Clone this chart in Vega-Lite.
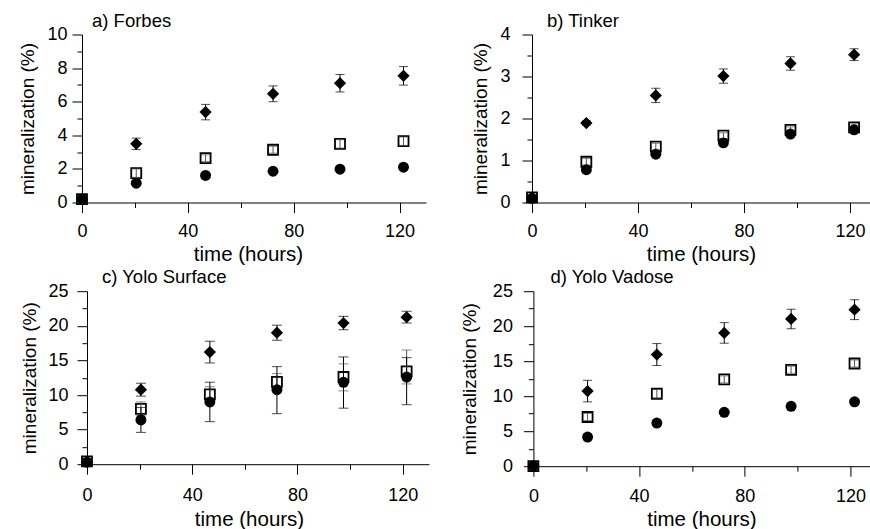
{
  "$schema": "https://vega.github.io/schema/vega-lite/v6.json",
  "padding": {"left": 18, "top": 11.5, "right": 0, "bottom": 0},
  "spacing": 2.7,
  "config": {
    "view": {"stroke": null},
    "font": "Liberation Sans",
    "axis": {"grid": false, "domainColor": "#000", "tickColor": "#000", "labelColor": "#000", "titleColor": "#000", "labelFontSize": 18, "titleFontSize": 20, "titleFontWeight": "normal", "labelOverlap": false, "labelFlush": false, "labelBound": false, "tickCount": 40, "format": "~g"},
    "axisY": {"titleFontSize": 19},
    "axisX": {"titleFontSize": 20.5},
    "title": {"fontSize": 18.5, "fontWeight": "normal", "color": "#000", "anchor": "start", "frame": "group", "baseline": "alphabetic", "offset": -4.5}
  },
  "datasets": {
    "pts": [
      {"p": "a", "s": "square", "t": 0, "y": 0.2},
      {"p": "a", "s": "circle", "t": 0, "y": 0.2},
      {"p": "a", "s": "diamond", "t": 0, "y": 0.2},
      {"p": "a", "s": "diamond", "t": 20.5, "y": 3.49, "lo": 3.15, "hi": 3.83},
      {"p": "a", "s": "diamond", "t": 46.7, "y": 5.38, "lo": 4.92, "hi": 5.84},
      {"p": "a", "s": "diamond", "t": 72.2, "y": 6.47, "lo": 6.0, "hi": 6.94},
      {"p": "a", "s": "diamond", "t": 97.5, "y": 7.1, "lo": 6.58, "hi": 7.62},
      {"p": "a", "s": "diamond", "t": 121.5, "y": 7.54, "lo": 6.99, "hi": 8.09},
      {"p": "a", "s": "square", "t": 20.5, "y": 1.75, "lo": 1.5, "hi": 2.0},
      {"p": "a", "s": "square", "t": 46.7, "y": 2.64, "lo": 2.44, "hi": 2.84},
      {"p": "a", "s": "square", "t": 72.2, "y": 3.14, "lo": 2.94, "hi": 3.34},
      {"p": "a", "s": "square", "t": 97.5, "y": 3.49, "lo": 3.24, "hi": 3.74},
      {"p": "a", "s": "square", "t": 121.5, "y": 3.65, "lo": 3.4, "hi": 3.9},
      {"p": "a", "s": "circle", "t": 20.5, "y": 1.15},
      {"p": "a", "s": "circle", "t": 46.7, "y": 1.61},
      {"p": "a", "s": "circle", "t": 72.2, "y": 1.86},
      {"p": "a", "s": "circle", "t": 97.5, "y": 1.98},
      {"p": "a", "s": "circle", "t": 121.5, "y": 2.1},

      {"p": "b", "s": "square", "t": 0, "y": 0.12},
      {"p": "b", "s": "circle", "t": 0, "y": 0.1},
      {"p": "b", "s": "diamond", "t": 0, "y": 0.1},
      {"p": "b", "s": "diamond", "t": 20.5, "y": 1.89, "lo": 1.84, "hi": 1.94},
      {"p": "b", "s": "diamond", "t": 46.7, "y": 2.55, "lo": 2.38, "hi": 2.72},
      {"p": "b", "s": "diamond", "t": 72.2, "y": 3.01, "lo": 2.84, "hi": 3.18},
      {"p": "b", "s": "diamond", "t": 97.5, "y": 3.31, "lo": 3.15, "hi": 3.47},
      {"p": "b", "s": "diamond", "t": 121.5, "y": 3.52, "lo": 3.38, "hi": 3.66},
      {"p": "b", "s": "square", "t": 20.5, "y": 0.97, "lo": 0.89, "hi": 1.05},
      {"p": "b", "s": "square", "t": 46.7, "y": 1.33, "lo": 1.25, "hi": 1.41},
      {"p": "b", "s": "square", "t": 72.2, "y": 1.59, "lo": 1.52, "hi": 1.66},
      {"p": "b", "s": "square", "t": 97.5, "y": 1.73, "lo": 1.66, "hi": 1.8},
      {"p": "b", "s": "square", "t": 121.5, "y": 1.79, "lo": 1.71, "hi": 1.87},
      {"p": "b", "s": "circle", "t": 20.5, "y": 0.78},
      {"p": "b", "s": "circle", "t": 46.7, "y": 1.15},
      {"p": "b", "s": "circle", "t": 72.2, "y": 1.42},
      {"p": "b", "s": "circle", "t": 97.5, "y": 1.63},
      {"p": "b", "s": "circle", "t": 121.5, "y": 1.73},

      {"p": "c", "s": "square", "t": 0, "y": 0.4},
      {"p": "c", "s": "circle", "t": 0, "y": 0.3},
      {"p": "c", "s": "diamond", "t": 0, "y": 0.3},
      {"p": "c", "s": "diamond", "t": 20.5, "y": 10.77, "lo": 9.84, "hi": 11.7},
      {"p": "c", "s": "diamond", "t": 46.7, "y": 16.2, "lo": 14.63, "hi": 17.77},
      {"p": "c", "s": "diamond", "t": 72.2, "y": 19.0, "lo": 17.91, "hi": 20.09},
      {"p": "c", "s": "diamond", "t": 97.5, "y": 20.4, "lo": 19.43, "hi": 21.37},
      {"p": "c", "s": "diamond", "t": 121.5, "y": 21.25, "lo": 20.4, "hi": 22.1},
      {"p": "c", "s": "square", "t": 20.5, "y": 8.0, "lo": 7.0, "hi": 9.0},
      {"p": "c", "s": "square", "t": 46.7, "y": 10.1, "lo": 8.9, "hi": 11.2},
      {"p": "c", "s": "square", "t": 72.2, "y": 11.9, "lo": 10.6, "hi": 13.1},
      {"p": "c", "s": "square", "t": 97.5, "y": 12.6, "lo": 10.6, "hi": 14.5},
      {"p": "c", "s": "square", "t": 121.5, "y": 13.4, "lo": 11.6, "hi": 16.5},
      {"p": "c", "s": "circle", "t": 20.5, "y": 6.4, "lo": 4.6, "hi": 8.2},
      {"p": "c", "s": "circle", "t": 46.7, "y": 9.0, "lo": 6.15, "hi": 11.85},
      {"p": "c", "s": "circle", "t": 72.2, "y": 10.77, "lo": 7.3, "hi": 14.1},
      {"p": "c", "s": "circle", "t": 97.5, "y": 11.83, "lo": 8.1, "hi": 15.5},
      {"p": "c", "s": "circle", "t": 121.5, "y": 12.6, "lo": 8.6, "hi": 15.4},

      {"p": "d", "s": "square", "t": 0, "y": 0},
      {"p": "d", "s": "circle", "t": 0, "y": 0},
      {"p": "d", "s": "diamond", "t": 0, "y": 0},
      {"p": "d", "s": "diamond", "t": 20.5, "y": 10.73, "lo": 9.19, "hi": 12.27},
      {"p": "d", "s": "diamond", "t": 46.7, "y": 15.95, "lo": 14.38, "hi": 17.52},
      {"p": "d", "s": "diamond", "t": 72.2, "y": 19.04, "lo": 17.57, "hi": 20.51},
      {"p": "d", "s": "diamond", "t": 97.5, "y": 21.03, "lo": 19.63, "hi": 22.43},
      {"p": "d", "s": "diamond", "t": 121.5, "y": 22.36, "lo": 20.94, "hi": 23.78},
      {"p": "d", "s": "square", "t": 20.5, "y": 7.03, "lo": 6.53, "hi": 7.53},
      {"p": "d", "s": "square", "t": 46.7, "y": 10.35, "lo": 9.75, "hi": 10.95},
      {"p": "d", "s": "square", "t": 72.2, "y": 12.4, "lo": 11.9, "hi": 12.9},
      {"p": "d", "s": "square", "t": 97.5, "y": 13.77, "lo": 13.27, "hi": 14.27},
      {"p": "d", "s": "square", "t": 121.5, "y": 14.67, "lo": 14.17, "hi": 15.17},
      {"p": "d", "s": "circle", "t": 20.5, "y": 4.17},
      {"p": "d", "s": "circle", "t": 46.7, "y": 6.17},
      {"p": "d", "s": "circle", "t": 72.2, "y": 7.7},
      {"p": "d", "s": "circle", "t": 97.5, "y": 8.55},
      {"p": "d", "s": "circle", "t": 121.5, "y": 9.2}
    ]
  },
  "vconcat": [
    {
      "spacing": 45,
      "hconcat": [
        {
          "width": 344, "height": 168,
          "title": {"text": "a) Forbes", "dx": 10},
          "data": {"name": "pts"},
          "transform": [{"filter": "datum.p === 'a'"}],
          "encoding": {
            "x": {"field": "t", "type": "quantitative", "scale": {"domain": [0, 130], "nice": false, "zero": false},
              "axis": {"title": "time (hours)", "titleX": 166, "values": [0, 20, 40, 60, 80, 100, 120], "tickCount": 40, "format": "~g", "labelExpr": "datum.value % 40 === 0 ? datum.label : ''", "tickSize": {"condition": {"test": "datum.value % 40 === 0", "value": 10}, "value": 5}, "labelPadding": 10, "titlePadding": 4, "labelOverlap": false}}
          },
          "layer": [
            {"transform": [{"filter": "datum.s === 'square'"}], "mark": {"type": "point", "shape": "square", "filled": true, "fill": "#fff", "stroke": "#000", "strokeWidth": 1.8, "size": 100, "opacity": 1, "clip": false},
              "encoding": {"y": {"field": "y", "type": "quantitative", "scale": {"domain": [0, 10], "nice": false},
                "axis": {"title": "mineralization (%)", "values": [0,1,2,3,4,5,6,7,8,9,10], "tickCount": 40, "format": "~g", "labelExpr": "datum.value % 2 === 0 ? datum.label : ''", "tickSize": {"condition": {"test": "datum.value % 2 === 0", "value": 10}, "value": 5}, "labelPadding": 5, "titlePadding": 9, "labelOverlap": false}}}},
            {"transform": [{"filter": "isValid(datum.lo)"}], "mark": {"type": "rule", "strokeWidth": 1, "clip": false},
              "encoding": {"y": {"field": "lo", "type": "quantitative"}, "y2": {"field": "hi"}, "color": {"field": "s", "type": "nominal", "scale": {"domain": ["square", "circle", "diamond"], "range": ["#555", "#000", "#000"]}, "legend": null}}},
            {"transform": [{"filter": "isValid(datum.lo)"}], "mark": {"type": "tick", "orient": "horizontal", "thickness": 1, "size": 9, "clip": false},
              "encoding": {"y": {"field": "lo", "type": "quantitative"}, "color": {"field": "s", "type": "nominal", "legend": null}}},
            {"transform": [{"filter": "isValid(datum.lo)"}], "mark": {"type": "tick", "orient": "horizontal", "thickness": 1, "size": 9, "clip": false},
              "encoding": {"y": {"field": "hi", "type": "quantitative"}, "color": {"field": "s", "type": "nominal", "legend": null}}},
            {"transform": [{"filter": "datum.s === 'circle'"}], "mark": {"type": "point", "shape": "circle", "filled": true, "opacity": 1, "color": "#000", "size": 120, "clip": false},
              "encoding": {"y": {"field": "y", "type": "quantitative"}}},
            {"transform": [{"filter": "datum.s === 'diamond'"}], "mark": {"type": "point", "shape": "diamond", "filled": true, "opacity": 1, "color": "#000", "size": 150, "clip": false},
              "encoding": {"y": {"field": "y", "type": "quantitative"}}}
          ]
        },
        {
          "width": 338, "height": 168,
          "title": {"text": "b) Tinker", "dx": 15},
          "data": {"name": "pts"},
          "transform": [{"filter": "datum.p === 'b'"}],
          "encoding": {
            "x": {"field": "t", "type": "quantitative", "scale": {"domain": [0, 127.5], "nice": false, "zero": false},
              "axis": {"title": "time (hours)", "titleX": 169, "values": [0, 20, 40, 60, 80, 100, 120], "tickCount": 40, "format": "~g", "labelExpr": "datum.value % 40 === 0 ? datum.label : ''", "tickSize": {"condition": {"test": "datum.value % 40 === 0", "value": 10}, "value": 5}, "labelPadding": 10, "titlePadding": 4, "labelOverlap": false}}
          },
          "layer": [
            {"transform": [{"filter": "datum.s === 'square'"}], "mark": {"type": "point", "shape": "square", "filled": true, "fill": "#fff", "stroke": "#000", "strokeWidth": 1.8, "size": 100, "opacity": 1, "clip": false},
              "encoding": {"y": {"field": "y", "type": "quantitative", "scale": {"domain": [0, 4], "nice": false},
                "axis": {"title": "mineralization (%)", "values": [0,0.5,1,1.5,2,2.5,3,3.5,4], "tickCount": 40, "format": "~g", "labelExpr": "datum.value % 1 === 0 ? datum.label : ''", "tickSize": {"condition": {"test": "datum.value % 1 === 0", "value": 10}, "value": 5}, "labelPadding": 12, "titlePadding": 9, "labelOverlap": false}}}},
            {"transform": [{"filter": "isValid(datum.lo)"}], "mark": {"type": "rule", "strokeWidth": 1, "clip": false},
              "encoding": {"y": {"field": "lo", "type": "quantitative"}, "y2": {"field": "hi"}, "color": {"field": "s", "type": "nominal", "scale": {"domain": ["square", "circle", "diamond"], "range": ["#555", "#000", "#000"]}, "legend": null}}},
            {"transform": [{"filter": "isValid(datum.lo)"}], "mark": {"type": "tick", "orient": "horizontal", "thickness": 1, "size": 9, "clip": false},
              "encoding": {"y": {"field": "lo", "type": "quantitative"}, "color": {"field": "s", "type": "nominal", "legend": null}}},
            {"transform": [{"filter": "isValid(datum.lo)"}], "mark": {"type": "tick", "orient": "horizontal", "thickness": 1, "size": 9, "clip": false},
              "encoding": {"y": {"field": "hi", "type": "quantitative"}, "color": {"field": "s", "type": "nominal", "legend": null}}},
            {"transform": [{"filter": "datum.s === 'circle'"}], "mark": {"type": "point", "shape": "circle", "filled": true, "opacity": 1, "color": "#000", "size": 120, "clip": false},
              "encoding": {"y": {"field": "y", "type": "quantitative"}}},
            {"transform": [{"filter": "datum.s === 'diamond'"}], "mark": {"type": "point", "shape": "diamond", "filled": true, "opacity": 1, "color": "#000", "size": 150, "clip": false},
              "encoding": {"y": {"field": "y", "type": "quantitative"}}}
          ]
        }
      ]
    },
    {
      "spacing": 31.4,
      "hconcat": [
        {
          "width": 347, "height": 173,
          "title": {"text": "c) Yolo Surface", "dx": 20},
          "data": {"name": "pts"},
          "transform": [{"filter": "datum.p === 'c'"}],
          "encoding": {
            "x": {"field": "t", "type": "quantitative", "scale": {"domain": [0, 130], "range": [5, 347], "nice": false, "zero": false},
              "axis": {"title": "time (hours)", "titleX": 167, "values": [0, 20, 40, 60, 80, 100, 120], "tickCount": 40, "format": "~g", "labelExpr": "datum.value % 40 === 0 ? datum.label : ''", "tickSize": {"condition": {"test": "datum.value % 40 === 0", "value": 10}, "value": 5}, "labelPadding": 12, "titlePadding": 5, "labelOverlap": false}}
          },
          "layer": [
            {"transform": [{"filter": "datum.s === 'square'"}], "mark": {"type": "point", "shape": "square", "filled": true, "fill": "#fff", "stroke": "#000", "strokeWidth": 1.8, "size": 100, "opacity": 1, "clip": false},
              "encoding": {"y": {"field": "y", "type": "quantitative", "scale": {"domain": [0, 25], "nice": false},
                "axis": {"title": "mineralization (%)", "offset": -5, "values": [0,2.5,5,7.5,10,12.5,15,17.5,20,22.5,25], "tickCount": 40, "format": "~g", "labelExpr": "datum.value % 5 === 0 ? datum.label : ''", "tickSize": {"condition": {"test": "datum.value % 5 === 0", "value": 10}, "value": 5}, "labelPadding": 9, "titlePadding": 8.5, "labelOverlap": false}}}},
            {"transform": [{"filter": "isValid(datum.lo)"}], "mark": {"type": "rule", "strokeWidth": 1, "clip": false},
              "encoding": {"y": {"field": "lo", "type": "quantitative"}, "y2": {"field": "hi"}, "color": {"field": "s", "type": "nominal", "scale": {"domain": ["square", "circle", "diamond"], "range": ["#666", "#000", "#000"]}, "legend": null}}},
            {"transform": [{"filter": "isValid(datum.lo)"}], "mark": {"type": "tick", "orient": "horizontal", "thickness": 1, "size": 10, "clip": false},
              "encoding": {"y": {"field": "lo", "type": "quantitative"}, "color": {"field": "s", "type": "nominal", "legend": null}}},
            {"transform": [{"filter": "isValid(datum.lo)"}], "mark": {"type": "tick", "orient": "horizontal", "thickness": 1, "size": 10, "clip": false},
              "encoding": {"y": {"field": "hi", "type": "quantitative"}, "color": {"field": "s", "type": "nominal", "legend": null}}},
            {"transform": [{"filter": "datum.s === 'circle'"}], "mark": {"type": "point", "shape": "circle", "filled": true, "opacity": 1, "color": "#000", "size": 120, "clip": false},
              "encoding": {"y": {"field": "y", "type": "quantitative"}}},
            {"transform": [{"filter": "datum.s === 'diamond'"}], "mark": {"type": "point", "shape": "diamond", "filled": true, "opacity": 1, "color": "#000", "size": 150, "clip": false},
              "encoding": {"y": {"field": "y", "type": "quantitative"}}}
          ]
        },
        {
          "width": 337, "height": 175,
          "title": {"text": "d) Yolo Vadose", "dx": 17},
          "data": {"name": "pts"},
          "transform": [{"filter": "datum.p === 'd'"}],
          "encoding": {
            "x": {"field": "t", "type": "quantitative", "scale": {"domain": [0, 127.5], "nice": false, "zero": false},
              "axis": {"title": "time (hours)", "titleX": 168, "values": [0, 20, 40, 60, 80, 100, 120], "tickCount": 40, "format": "~g", "labelExpr": "datum.value % 40 === 0 ? datum.label : ''", "tickSize": {"condition": {"test": "datum.value % 40 === 0", "value": 10}, "value": 5}, "labelPadding": 11, "titlePadding": 4, "labelOverlap": false}}
          },
          "layer": [
            {"transform": [{"filter": "datum.s === 'square'"}], "mark": {"type": "point", "shape": "square", "filled": true, "fill": "#fff", "stroke": "#000", "strokeWidth": 1.8, "size": 100, "opacity": 1, "clip": false},
              "encoding": {"y": {"field": "y", "type": "quantitative", "scale": {"domain": [0, 25], "nice": false},
                "axis": {"title": "mineralization (%)", "values": [0,2.5,5,7.5,10,12.5,15,17.5,20,22.5,25], "tickCount": 40, "format": "~g", "labelExpr": "datum.value % 5 === 0 ? datum.label : ''", "tickSize": {"condition": {"test": "datum.value % 5 === 0", "value": 10}, "value": 5}, "labelPadding": 11, "titlePadding": 12.5, "labelOverlap": false}}}},
            {"transform": [{"filter": "isValid(datum.lo)"}], "mark": {"type": "rule", "strokeWidth": 1, "clip": false},
              "encoding": {"y": {"field": "lo", "type": "quantitative"}, "y2": {"field": "hi"}, "color": {"field": "s", "type": "nominal", "scale": {"domain": ["square", "circle", "diamond"], "range": ["#555", "#000", "#000"]}, "legend": null}}},
            {"transform": [{"filter": "isValid(datum.lo)"}], "mark": {"type": "tick", "orient": "horizontal", "thickness": 1, "size": 9, "clip": false},
              "encoding": {"y": {"field": "lo", "type": "quantitative"}, "color": {"field": "s", "type": "nominal", "legend": null}}},
            {"transform": [{"filter": "isValid(datum.lo)"}], "mark": {"type": "tick", "orient": "horizontal", "thickness": 1, "size": 9, "clip": false},
              "encoding": {"y": {"field": "hi", "type": "quantitative"}, "color": {"field": "s", "type": "nominal", "legend": null}}},
            {"transform": [{"filter": "datum.s === 'circle'"}], "mark": {"type": "point", "shape": "circle", "filled": true, "opacity": 1, "color": "#000", "size": 120, "clip": false},
              "encoding": {"y": {"field": "y", "type": "quantitative"}}},
            {"transform": [{"filter": "datum.s === 'diamond'"}], "mark": {"type": "point", "shape": "diamond", "filled": true, "opacity": 1, "color": "#000", "size": 150, "clip": false},
              "encoding": {"y": {"field": "y", "type": "quantitative"}}}
          ]
        }
      ]
    }
  ]
}
